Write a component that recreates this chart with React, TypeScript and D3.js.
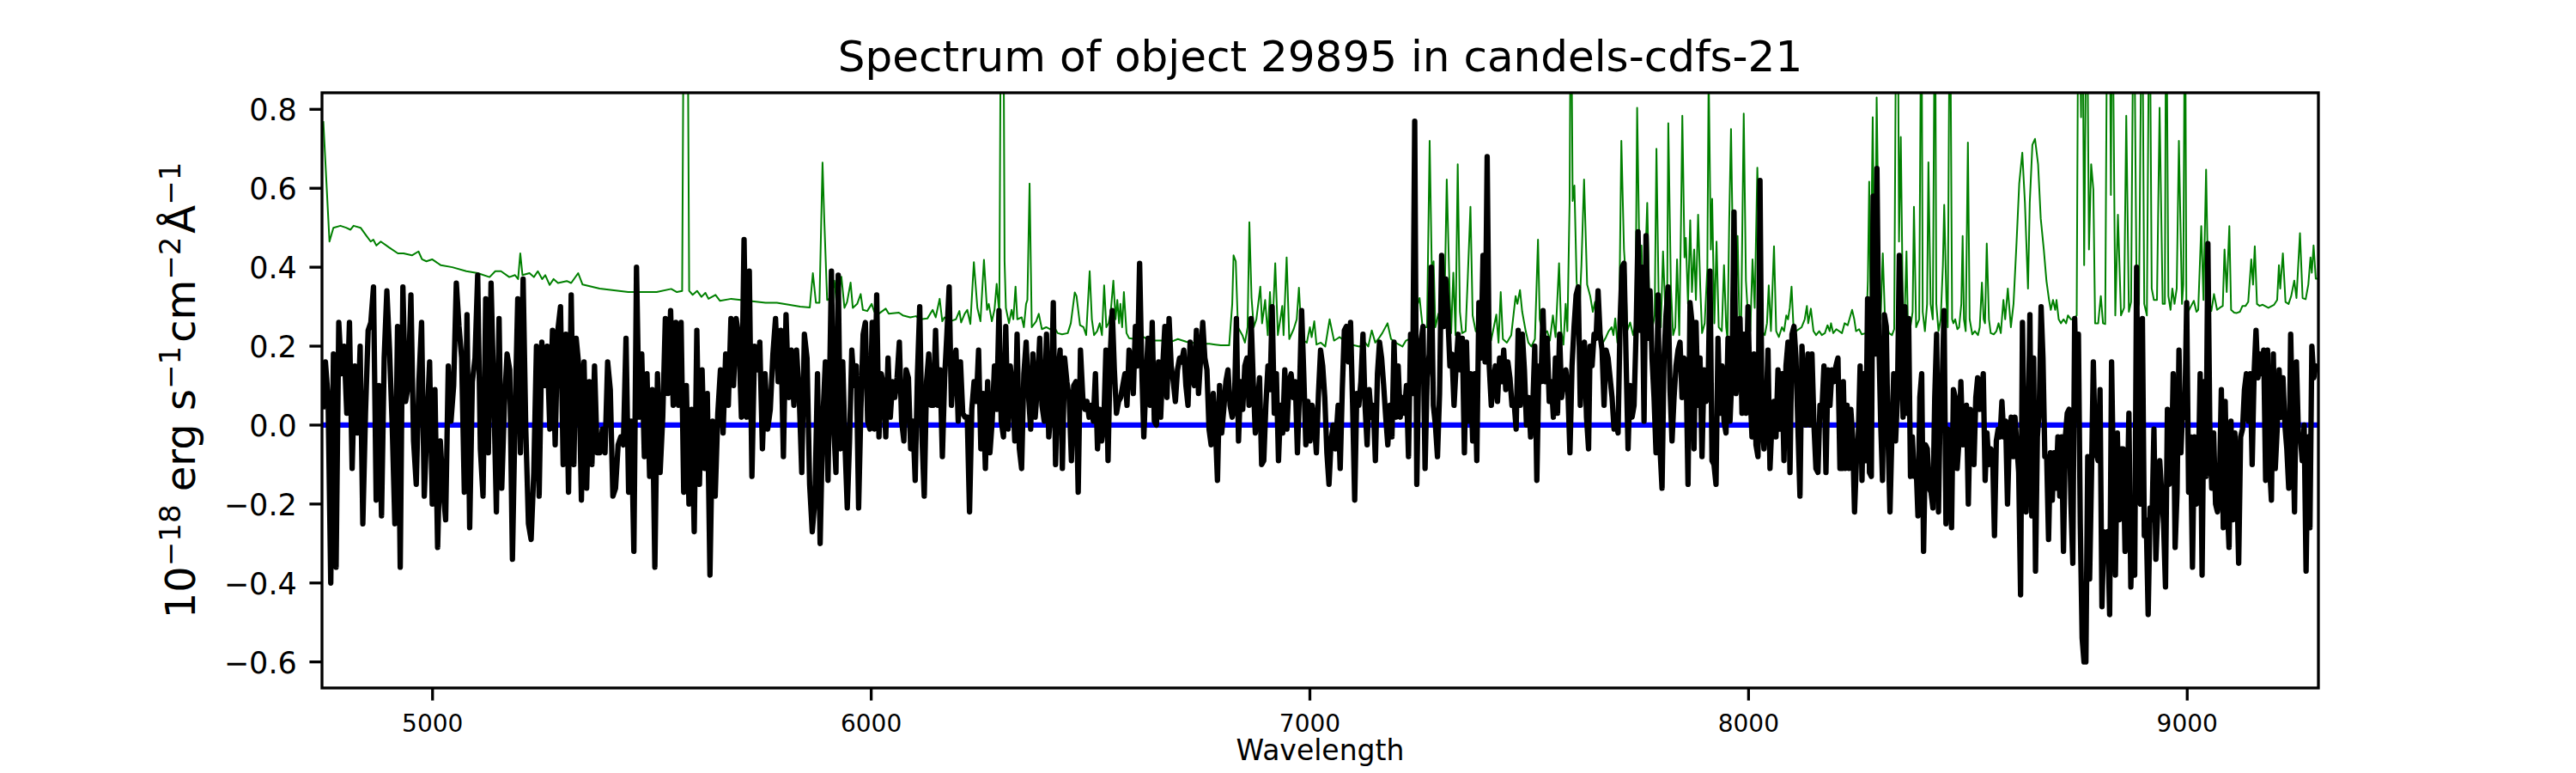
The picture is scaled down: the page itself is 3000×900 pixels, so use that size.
import React, { useEffect } from 'react';
import * as d3 from 'd3';

const TITLE = 'Spectrum of object 29895 in candels-cdfs-21';
const X_LABEL = 'Wavelength';
const X_DOMAIN: [number, number] = [4748, 9299];
const Y_DOMAIN: [number, number] = [-0.666, 0.842];
const X_TICKS = [5000, 6000, 7000, 8000, 9000];
const Y_TICKS = [-0.6, -0.4, -0.2, 0.0, 0.2, 0.4, 0.6, 0.8];

// Observed flux, in eight wavelength segments (start wavelength, sampling step, values)
const segStarts = [4749.7, 5327.4, 5909.3, 6482.3, 7064.4, 7638.7, 8216.05, 8796.8];
const segSteps = [6.09, 5.98, 5.161, 4.797, 4.718, 4.557, 4.253, 4.39];

const flux1 = [
  0.04, 0.16, 0.07, -0.40, 0.18, -0.36, 0.26, 0.13, 0.20, 0.03,
  0.26, -0.11, 0.15, -0.02, 0.20, -0.25, 0.03, 0.24, 0.26, 0.35,
  -0.19, 0.10, -0.23, 0.17, 0.34, 0.19, 0.00, -0.25, 0.25, -0.36,
  0.35, 0.06, 0.10, 0.33, -0.04, -0.15, 0.11, 0.26, -0.18, 0.00,
  0.16, -0.20, 0.09, -0.31, -0.04, -0.16, -0.24, 0.15, 0.01, 0.10,
  0.36, 0.25, 0.17, -0.17, 0.28, -0.26, 0.11, 0.17, 0.38, -0.06,
  -0.18, 0.32, -0.07, 0.36, 0.09, -0.22, 0.27, -0.16, 0.05, 0.18,
  0.14, -0.34, 0.03, 0.32, -0.07, 0.37, -0.01, -0.25, -0.29, -0.12,
  0.20, -0.18, 0.21, 0.10, 0.20, -0.01, 0.24, -0.05, 0.24, 0.30,
  -0.10, 0.23, -0.17, 0.33, -0.10,
];
const flux2 = [
  0.22, 0.15, -0.19, 0.16, -0.16, 0.11, -0.10, 0.15, -0.07, -0.07,
  -0.01, -0.07, 0.16, 0.09, -0.18, -0.16, -0.05, -0.03, -0.05, 0.22,
  -0.17, 0.01, -0.32, 0.40, 0.02, 0.18, -0.08, 0.13, -0.13, 0.09,
  -0.36, 0.13, -0.12, 0.02, 0.27, 0.08, 0.29, 0.05, 0.26, 0.05,
  0.26, -0.17, 0.10, -0.20, 0.04, -0.27, 0.24, -0.15, 0.14, -0.11,
  0.08, -0.38, 0.01, -0.18, 0.03, 0.14, -0.02, 0.18, 0.05, 0.27,
  0.10, 0.27, 0.22, 0.02, 0.47, 0.02, 0.39, -0.13, 0.20, 0.14,
  0.21, -0.06, 0.13, -0.01, 0.04, 0.18, 0.27, 0.11, 0.24, -0.08,
  0.28, 0.07, 0.19, 0.05, 0.19, 0.08, -0.12, 0.23, 0.17, -0.15,
  -0.27, -0.19, 0.13, -0.30, 0.01, 0.16, -0.14,
];
const flux3 = [
  0.39, 0.00, -0.12, 0.38, -0.06, 0.16, -0.05, -0.21, -0.04, 0.19,
  0.10, 0.15, -0.21, 0.04, 0.23, 0.26, 0.01, -0.01, 0.26, -0.01,
  0.33, -0.03, 0.13, 0.10, -0.03, 0.17, 0.02, 0.11, 0.07, 0.12,
  0.21, 0.01, -0.04, 0.14, 0.12, -0.06, 0.01, -0.14, 0.13, 0.30,
  -0.03, -0.18, 0.11, 0.18, 0.05, 0.05, 0.24, 0.05, 0.14, -0.08,
  0.12, 0.23, 0.35, 0.05, 0.15, 0.19, 0.01, 0.16, 0.03, 0.02,
  0.02, -0.22, 0.04, 0.11, 0.06, 0.19, -0.06, 0.08, -0.11, 0.11,
  -0.07, 0.01, 0.15, 0.04, 0.29, 0.01, -0.03, 0.25, -0.01, 0.15,
  0.09, -0.04, 0.23, -0.06, -0.11, 0.13, 0.21, 0.08, -0.01, 0.18,
  0.02, 0.10, 0.22, 0.05, 0.01, 0.23, -0.03, 0.04, 0.31, -0.10,
  0.13, 0.19, -0.11, 0.17, 0.11, 0.07, -0.09, 0.10, 0.11, -0.17,
  0.19,
];
const flux4 = [
  0.07, 0.04, 0.06, 0.02, 0.05, 0.01, 0.13, -0.06, 0.04, -0.04,
  0.01, 0.19, -0.09, 0.17, 0.29, 0.14, 0.03, 0.06, 0.07, 0.10,
  0.13, 0.05, 0.19, 0.15, 0.08, 0.25, 0.15, 0.41, 0.15, -0.03,
  0.11, 0.22, 0.05, 0.26, 0.01, 0.00, 0.16, 0.02, 0.15, 0.25,
  0.07, 0.27, 0.15, 0.11, 0.06, 0.14, 0.17, 0.16, 0.19, 0.10,
  0.05, 0.21, 0.13, 0.10, 0.24, 0.08, 0.17, 0.26, 0.17, 0.14,
  -0.01, -0.05, 0.08, 0.00, -0.14, 0.10, -0.02, 0.04, 0.11, 0.14,
  0.05, 0.02, 0.04, 0.27, -0.04, 0.11, 0.04, 0.15, 0.17, 0.05,
  0.27, 0.11, -0.02, 0.05, 0.12, -0.10, -0.09, 0.05, 0.15, 0.09,
  0.30, 0.03, 0.13, -0.09, 0.05, -0.02, 0.14, -0.01, 0.11, 0.13,
  0.07, 0.11, -0.07, 0.09, 0.29, 0.13, -0.05, 0.06, -0.04, 0.05,
  0.01, -0.07, 0.08, 0.19, 0.15, 0.07, -0.07, -0.15, -0.04, 0.00,
  -0.06,
];
const flux5 = [
  0.05, -0.11, 0.09, 0.24, 0.25, 0.16, 0.26, 0.05, -0.19, 0.08,
  0.05, 0.11, 0.23, 0.05, -0.05, 0.09, 0.02, 0.05, -0.09, 0.13,
  0.21, 0.17, 0.10, 0.02, -0.05, 0.05, -0.03, 0.21, 0.02, 0.15,
  0.02, 0.07, 0.03, 0.10, -0.08, 0.23, 0.08, 0.77, -0.15, 0.17,
  0.21, 0.25, -0.11, 0.12, 0.18, 0.40, 0.05, 0.00, -0.08, 0.08,
  0.43, 0.25, 0.37, 0.28, 0.15, 0.18, 0.05, 0.15, 0.23, 0.14,
  0.22, -0.07, 0.21, 0.01, 0.13, -0.04, 0.13, -0.09, 0.31, 0.17,
  0.43, 0.16, 0.68, 0.15, 0.05, 0.11, 0.15, 0.06, 0.17, 0.11,
  0.19, 0.09, 0.16, 0.12, 0.05, 0.06, -0.01, 0.24, 0.05, 0.23,
  0.14, 0.00, 0.07, -0.03, 0.04, 0.20, -0.14, 0.15, 0.11, 0.29,
  0.11, 0.22, 0.06, 0.11, 0.02, 0.17, 0.03, 0.23, 0.07, 0.11,
  0.14, 0.09, -0.07, 0.15, 0.25, 0.33, 0.35, 0.05, 0.17, 0.21,
  0.02, -0.06,
];
const flux6 = [
  0.20, 0.15, 0.23, 0.22, 0.34, 0.23, 0.19, 0.05, 0.19, 0.17,
  0.12, 0.07, -0.01, 0.01, -0.02, 0.26, 0.40, 0.41, 0.17, -0.06,
  0.10, 0.02, 0.05, 0.23, 0.49, 0.24, 0.40, 0.01, 0.48, 0.22,
  0.34, 0.17, 0.07, -0.07, 0.33, -0.06, -0.16, 0.17, 0.28, 0.35,
  0.09, -0.04, 0.07, 0.15, 0.19, 0.21, 0.07, 0.17, 0.16, -0.15,
  0.31, 0.26, -0.06, 0.26, 0.05, 0.17, -0.08, 0.14, 0.06, 0.08,
  0.39, -0.09, -0.10, -0.15, 0.22, 0.03, 0.15, 0.01, -0.02, 0.22,
  0.01, 0.13, 0.54, 0.08, 0.15, 0.27, 0.03, 0.23, 0.03, 0.30,
  0.09, -0.03, 0.18, -0.05, -0.08, 0.62, 0.01, -0.06, 0.03, 0.19,
  -0.11, 0.01, 0.06, -0.03, 0.14, -0.01, 0.13, -0.09, 0.15, 0.21,
  -0.12, 0.23, 0.25, 0.17, -0.01, -0.18, 0.20, 0.08, 0.00, 0.18,
  0.00, 0.18, 0.00, -0.11, -0.12, 0.05, 0.04, 0.15, -0.12, 0.14,
  0.05, 0.14, 0.11, 0.15, 0.17, -0.11, -0.11,
];
const flux7 = [
  0.11, -0.11, 0.05, -0.11, 0.04, -0.03, -0.22, -0.09, -0.03, 0.15,
  -0.14, 0.13, -0.09, 0.32, -0.12, -0.13, 0.58, 0.18, 0.65, 0.22,
  0.01, -0.14, 0.28, 0.25, -0.04, -0.22, -0.03, 0.13, -0.04, 0.07,
  0.43, 0.30, 0.02, 0.30, 0.03, 0.27, -0.13, -0.03, -0.13, -0.10,
  -0.23, 0.07, 0.13, -0.32, -0.05, -0.06, -0.16, -0.17, -0.21, 0.07,
  0.23, -0.22, 0.07, 0.11, 0.29, -0.25, -0.01, -0.03, -0.26, 0.09,
  0.07, -0.11, -0.04, 0.11, -0.05, 0.01, 0.05, -0.20, 0.04, -0.02,
  -0.10, 0.07, 0.12, 0.04, 0.07, 0.13, -0.14, -0.02, -0.10, -0.06,
  -0.07, -0.28, -0.04, -0.01, -0.03, 0.06, -0.03, 0.01, -0.20, -0.03,
  0.02, -0.08, 0.02, -0.05, -0.12, -0.43, 0.26, -0.05, -0.22, -0.03,
  0.28, -0.23, 0.17, -0.37, -0.03, 0.04, 0.30, 0.17, -0.08, -0.08,
  -0.29, -0.07, -0.19, -0.07, -0.16, -0.03, -0.18, -0.03, -0.32, -0.03,
  0.03, 0.04, -0.20, -0.35, 0.27, 0.05, 0.23, -0.25, -0.54, -0.60,
  -0.60, -0.08, -0.39, -0.13, 0.16, -0.06,
];
const flux8 = [
  -0.09, 0.09, -0.46, -0.27, -0.30, -0.27, -0.48, 0.16, -0.15, -0.38,
  -0.02, -0.24, -0.06, -0.06, -0.32, -0.23, 0.03, -0.41, -0.22, -0.38,
  0.40, -0.15, -0.20, 0.27, -0.28, -0.24, -0.48, -0.21, -0.24, -0.01,
  -0.34, -0.21, -0.09, -0.17, -0.25, -0.41, 0.04, -0.15, -0.13, 0.13,
  -0.31, -0.17, 0.19, -0.07, 0.05, 0.02, 0.31, -0.17, -0.03, -0.36,
  -0.03, -0.20, -0.14, 0.13, -0.38, 0.11, -0.13, 0.46, 0.00, -0.16,
  -0.02, -0.20, -0.22, -0.15, 0.09, -0.26, 0.06, -0.19, -0.31, 0.01,
  -0.24, -0.02, -0.13, -0.35, -0.03, -0.01, 0.09, 0.13, 0.01, 0.13,
  -0.10, 0.13, 0.24, 0.12, 0.18, 0.13, 0.19, -0.14, 0.19, -0.10,
  -0.19, 0.18, -0.11, -0.01, 0.14, 0.02, 0.12, 0.00, -0.06, -0.16,
  0.23, 0.00, -0.22, 0.16, -0.02, -0.03, -0.09, 0.00, -0.37, -0.03,
  -0.26, 0.20, 0.12, 0.15, 0.14,
];
const fluxSegments = [flux1, flux2, flux3, flux4, flux5, flux6, flux7, flux8];

// Sky / noise spectrum (green): [wavelength, flux]
const sky1: [number, number][] = [
  [4751, 0.77], [4765, 0.465], [4774, 0.50], [4790, 0.505], [4803, 0.50], [4813, 0.495], [4820, 0.505],
  [4836, 0.50], [4849, 0.48], [4859, 0.465], [4865, 0.47], [4872, 0.455], [4882, 0.465], [4901, 0.45],
  [4921, 0.435], [4934, 0.435], [4953, 0.43], [4968, 0.44], [4976, 0.42], [4986, 0.415], [4999, 0.42],
  [5019, 0.405], [5045, 0.40], [5077, 0.39], [5103, 0.385], [5130, 0.375], [5143, 0.39], [5156, 0.39],
  [5175, 0.375], [5188, 0.38], [5195, 0.37], [5200, 0.435], [5205, 0.38], [5221, 0.385], [5231, 0.375],
  [5240, 0.39], [5250, 0.37], [5257, 0.38], [5267, 0.355], [5276, 0.37], [5286, 0.36], [5306, 0.365],
];
const sky2: [number, number][] = [
  [5316, 0.36], [5332, 0.385], [5342, 0.356], [5381, 0.346], [5446, 0.337], [5511, 0.337], [5544, 0.345],
  [5557, 0.337], [5569, 0.34], [5573, 1.2], [5577, 1.0], [5581, 1.2], [5585, 0.34], [5593, 0.33],
  [5603, 0.34], [5613, 0.325], [5622, 0.335], [5629, 0.32], [5645, 0.33], [5655, 0.315], [5681, 0.32],
  [5720, 0.315], [5759, 0.31], [5785, 0.31], [5812, 0.305], [5838, 0.30], [5860, 0.298], [5867, 0.385],
  [5874, 0.31], [5882, 0.31], [5889, 0.665],
];
const sky3: [number, number][] = [
  [5893, 0.52], [5899.5, 0.317], [5909, 0.322], [5916, 0.366], [5922, 0.297], [5932, 0.376], [5939, 0.297],
  [5945, 0.312], [5953, 0.361], [5958, 0.297], [5968, 0.307], [5976, 0.332], [5981, 0.292], [5991, 0.289],
  [6001, 0.307], [6007, 0.287], [6017, 0.282], [6033, 0.295], [6040, 0.282], [6063, 0.285], [6072, 0.278],
  [6089, 0.273], [6102, 0.276], [6112, 0.268], [6128, 0.27], [6140, 0.292], [6147, 0.273], [6156, 0.32],
  [6162, 0.263], [6167, 0.273], [6180, 0.263], [6193, 0.268], [6201, 0.289], [6205, 0.26], [6213, 0.282],
  [6219, 0.292], [6226, 0.256], [6234, 0.413], [6242, 0.297], [6249, 0.263], [6257, 0.419], [6264, 0.292],
  [6268, 0.307], [6275, 0.263], [6281, 0.292], [6286, 0.358], [6292, 0.282], [6296, 1.2], [6301, 1.2],
  [6304, 0.415], [6307, 0.297], [6314, 0.258], [6320, 0.292], [6324, 0.268], [6329, 0.351], [6333, 0.268],
  [6343, 0.273], [6348, 0.248], [6353, 0.307], [6356, 0.317], [6361, 0.612], [6366, 0.248], [6376, 0.263],
  [6382, 0.282], [6389, 0.243], [6399, 0.248], [6408, 0.243], [6415, 0.253], [6425, 0.233], [6435, 0.23],
  [6448, 0.233], [6455, 0.258], [6464, 0.336], [6468, 0.327],
];
const sky4: [number, number][] = [
  [6476, 0.253], [6484, 0.248], [6490, 0.228], [6498, 0.39], [6503, 0.268], [6508, 0.228], [6515, 0.238],
  [6521, 0.258], [6526, 0.228], [6531, 0.354], [6536, 0.248], [6541, 0.258], [6546, 0.287], [6552, 0.366],
  [6557, 0.268], [6561, 0.317], [6565, 0.258], [6568, 0.307], [6572, 0.248], [6576, 0.337], [6582, 0.233],
  [6588, 0.22], [6601, 0.218], [6621, 0.223], [6634, 0.214], [6647, 0.214], [6666, 0.214], [6679, 0.209],
  [6699, 0.218], [6719, 0.211], [6732, 0.209], [6751, 0.206], [6771, 0.206], [6784, 0.204], [6797, 0.202],
  [6816, 0.202], [6823, 0.307], [6826, 0.43], [6831, 0.415], [6836, 0.248], [6846, 0.228], [6852, 0.209],
  [6858, 0.248], [6862, 0.514], [6867, 0.322], [6872, 0.248], [6878, 0.268], [6887, 0.351], [6891, 0.258],
  [6898, 0.317], [6904, 0.228], [6909, 0.337], [6914, 0.228], [6921, 0.41], [6927, 0.228], [6934, 0.278],
  [6937, 0.302], [6940, 0.228], [6947, 0.425], [6953, 0.218], [6963, 0.243], [6970, 0.268], [6975, 0.348],
  [6980, 0.248], [6986, 0.214], [6993, 0.209], [7000, 0.248], [7004, 0.223], [7010, 0.263], [7015, 0.204],
  [7025, 0.209], [7035, 0.199], [7045, 0.268],
];
const sky5: [number, number][] = [
  [7055, 0.214], [7061, 0.218], [7068, 0.223], [7077, 0.214], [7094, 0.204], [7113, 0.199], [7126, 0.209],
  [7133, 0.199], [7141, 0.24], [7149, 0.209], [7156, 0.218], [7165, 0.233], [7177, 0.258], [7185, 0.218],
  [7195, 0.209], [7211, 0.199], [7219, 0.214], [7227, 0.218], [7234, 0.228], [7244, 0.30], [7250, 0.322],
  [7257, 0.248], [7267, 0.248], [7273, 0.72], [7278, 0.386], [7282, 0.415], [7286, 0.248], [7293, 0.282],
  [7299, 0.248], [7306, 0.248], [7312, 0.622], [7319, 0.317], [7322, 0.233], [7327, 0.386], [7332, 0.228],
  [7337, 0.661], [7342, 0.287], [7347, 0.233], [7355, 0.238], [7360, 0.376], [7366, 0.553], [7371, 0.278],
  [7378, 0.238], [7387, 0.228], [7400, 0.209], [7413, 0.214], [7425, 0.28], [7430, 0.209], [7435, 0.337],
  [7440, 0.218], [7449, 0.209], [7459, 0.228], [7469, 0.327], [7473, 0.307], [7479, 0.342], [7484, 0.287],
  [7492, 0.238], [7498, 0.209], [7505, 0.199], [7513, 0.218], [7520, 0.47], [7524, 0.268], [7531, 0.228],
  [7541, 0.238], [7547, 0.214], [7554, 0.278], [7560, 0.223], [7568, 0.41], [7573, 0.238], [7578, 0.204],
  [7583, 0.307], [7587, 0.238], [7592, 0.563], [7595, 1.2], [7599, 0.568], [7603, 0.607], [7608, 0.366],
  [7614, 0.278], [7619, 0.405], [7625, 0.622],
];
const sky6: [number, number][] = [
  [7632, 0.356], [7639, 0.327], [7645, 0.287], [7650, 0.312], [7655, 0.218], [7661, 0.228], [7668, 0.209],
  [7675, 0.223], [7681, 0.238], [7688, 0.248], [7692, 0.228], [7696, 0.27], [7701, 0.209], [7705, 0.258],
  [7710, 0.72], [7716, 0.445], [7720, 0.376], [7723, 0.238], [7730, 0.26], [7737, 0.228], [7742, 0.258],
  [7746, 0.804], [7751, 0.435], [7756, 0.455], [7760, 0.268], [7765, 0.425], [7769, 0.563], [7774, 0.307],
  [7781, 0.248], [7786, 0.278], [7790, 0.70], [7795, 0.327], [7800, 0.248], [7805, 0.44], [7810, 0.297],
  [7814, 0.238], [7817, 0.765], [7823, 0.346], [7828, 0.228], [7833, 0.248], [7837, 0.42], [7842, 0.228],
  [7846, 0.514], [7849, 0.784], [7854, 0.425], [7857, 0.474], [7862, 0.307], [7867, 0.519], [7871, 0.337],
  [7876, 0.445], [7880, 0.317], [7885, 0.533], [7890, 0.346], [7894, 0.233], [7900, 0.258], [7906, 0.396],
  [7909, 0.9], [7914, 0.445], [7917, 0.573], [7922, 0.258], [7927, 0.465], [7932, 0.248], [7939, 0.238],
  [7944, 0.405], [7949, 0.248], [7952, 0.218], [7956, 0.524], [7960, 0.75], [7965, 0.386], [7970, 0.248],
  [7975, 0.479], [7979, 0.268], [7983, 0.248], [7989, 0.789], [7994, 0.366], [7999, 0.268], [8004, 0.238],
  [8009, 0.42], [8014, 0.297], [8020, 0.652], [8025, 0.445], [8030, 0.238], [8037, 0.228], [8042, 0.258],
  [8046, 0.354], [8051, 0.238], [8058, 0.453], [8063, 0.238], [8069, 0.223], [8076, 0.248], [8081, 0.238],
  [8086, 0.278], [8090, 0.268], [8094, 0.297], [8098, 0.351], [8102, 0.258], [8108, 0.238], [8121, 0.248],
  [8128, 0.268], [8133, 0.302], [8136, 0.258], [8142, 0.295], [8148, 0.238], [8154, 0.228], [8161, 0.238],
  [8167, 0.228], [8174, 0.233], [8180, 0.253], [8185, 0.238], [8188, 0.258], [8193, 0.233], [8200, 0.243],
];
const sky7: [number, number][] = [
  [8213, 0.233], [8219, 0.258], [8226, 0.253], [8236, 0.292], [8241, 0.268], [8245, 0.238], [8252, 0.243],
  [8258, 0.23], [8268, 0.233], [8272, 0.366], [8275, 0.617], [8278, 0.307], [8283, 0.78], [8288, 0.268],
  [8292, 0.83], [8298, 0.346], [8301, 0.268], [8306, 0.435], [8311, 0.268], [8315, 0.258], [8320, 0.233],
  [8327, 0.228], [8332, 0.243], [8337, 1.2], [8340, 1.2], [8343, 0.465], [8347, 0.73], [8352, 0.268],
  [8355, 0.248], [8360, 0.44], [8363, 0.268], [8369, 0.248], [8374, 0.287], [8377, 0.553], [8382, 0.248],
  [8389, 0.268], [8394, 1.2], [8397, 0.287], [8402, 0.238], [8407, 0.307], [8410, 0.666], [8415, 0.307],
  [8420, 0.268], [8425, 1.2], [8428, 0.307], [8433, 0.238], [8438, 0.268], [8443, 0.405], [8446, 0.558],
  [8451, 0.317], [8454, 0.248], [8459, 1.2], [8464, 0.268], [8467, 0.258], [8471, 0.268], [8476, 0.243],
  [8480, 0.248], [8485, 0.307], [8488, 0.479], [8491, 0.268], [8495, 0.238], [8500, 0.716], [8504, 0.268],
  [8510, 0.23], [8516, 0.238], [8523, 0.228], [8527, 0.248], [8532, 0.361], [8536, 0.268], [8539, 0.258],
  [8543, 0.46], [8548, 0.268], [8552, 0.233], [8559, 0.23], [8565, 0.238], [8570, 0.258], [8575, 0.233],
  [8581, 0.317], [8585, 0.268], [8591, 0.346], [8598, 0.248], [8604, 0.307], [8611, 0.465], [8617, 0.612],
  [8624, 0.69], [8630, 0.563], [8637, 0.346], [8641, 0.563], [8647, 0.71], [8653, 0.725], [8660, 0.661],
  [8666, 0.524], [8673, 0.445], [8679, 0.366], [8685, 0.317], [8689, 0.292], [8694, 0.317], [8699, 0.292],
  [8702, 0.317], [8707, 0.268], [8712, 0.258], [8718, 0.268], [8724, 0.258], [8728, 0.278], [8735, 0.268],
  [8741, 0.268], [8748, 0.278], [8752, 1.2], [8758, 0.78], [8761, 1.2], [8765, 0.405], [8771, 1.2],
  [8776, 0.445],
];
const sky8: [number, number][] = [
  [8781, 0.661], [8786, 0.597], [8790, 0.258], [8797, 0.258], [8803, 0.327], [8808, 0.258], [8813, 0.256],
  [8818, 1.2], [8823, 1.2], [8826, 0.583], [8829, 1.2], [8836, 0.278], [8842, 0.533], [8849, 0.278],
  [8856, 0.297], [8861, 0.784], [8867, 0.287], [8872, 0.312], [8878, 1.2], [8885, 0.287], [8890, 0.307],
  [8897, 1.2], [8902, 0.307], [8908, 0.278], [8914, 1.2], [8919, 0.346], [8924, 0.317], [8931, 0.317],
  [8937, 0.804], [8944, 0.307], [8949, 0.307], [8952, 1.2], [8957, 0.327], [8962, 0.292], [8966, 0.346],
  [8971, 0.307], [8976, 0.346], [8981, 0.72], [8988, 0.307], [8991, 0.356], [8995, 1.2], [8998, 0.312],
  [9002, 0.287], [9009, 0.302], [9015, 0.315], [9021, 0.287], [9025, 0.292], [9032, 0.504], [9037, 0.317],
  [9043, 0.647], [9048, 0.327], [9055, 0.289], [9061, 0.332], [9068, 0.292], [9074, 0.297], [9081, 0.302],
  [9085, 0.445], [9090, 0.337], [9096, 0.504], [9100, 0.292], [9107, 0.285], [9113, 0.284], [9120, 0.287],
  [9126, 0.302], [9133, 0.302], [9139, 0.312], [9146, 0.42], [9150, 0.356], [9154, 0.453], [9159, 0.307],
  [9165, 0.302], [9172, 0.305], [9185, 0.297], [9198, 0.305], [9205, 0.317], [9209, 0.405], [9212, 0.346],
  [9218, 0.435], [9224, 0.312], [9231, 0.307], [9237, 0.327], [9244, 0.366], [9249, 0.322], [9257, 0.486],
  [9263, 0.322], [9270, 0.319], [9276, 0.356], [9281, 0.425], [9284, 0.386], [9288, 0.455], [9293, 0.371],
  [9299, 0.371],
];
const skySegments = [sky1, sky2, sky3, sky4, sky5, sky6, sky7, sky8];

const FONT = 'DejaVu Sans, sans-serif';
const MINUS = '\u2212';

export default function App() {
  useEffect(() => {
    document.body.style.margin = '0';
  }, []);

  const W = 3000, H = 900;
  const L = 375, R = 2700, T = 108, B = 801;
  const x = d3.scaleLinear().domain(X_DOMAIN).range([L, R]);
  const y = d3.scaleLinear().domain(Y_DOMAIN).range([B, T]);

  const fluxPts: [number, number][] = [];
  fluxSegments.forEach((vals, s) => {
    vals.forEach((v, i) => fluxPts.push([segStarts[s] + i * segSteps[s], v]));
  });
  const skyPts: [number, number][] = ([] as [number, number][]).concat(...skySegments);

  const line = d3.line<[number, number]>().x(d => x(d[0])).y(d => y(d[1]));
  const zeroLine: [number, number][] = [[X_DOMAIN[0], 0], [X_DOMAIN[1], 0]];

  const tickLen = 14.6;
  const tickW = 3.3;
  const fmtY = (v: number) => {
    const s = Math.abs(v).toFixed(1);
    return v < -1e-9 ? MINUS + s : s;
  };

  const yl = 48;
  const sup = 34;
  const raise = 17;

  return (
    <svg width={W} height={H} viewBox={`0 0 ${W} ${H}`} style={{ position: 'absolute', left: 0, top: 0, background: '#fff' }}>
      <rect x={0} y={0} width={W} height={H} fill="#fff" />
      <defs>
        <clipPath id="plotClip">
          <rect x={L} y={T} width={R - L} height={B - T} />
        </clipPath>
      </defs>
      <g clipPath="url(#plotClip)">
        <path d={line(skyPts) || ''} fill="none" stroke="#008000" strokeWidth={2} strokeLinejoin="round" />
        <path d={line(zeroLine) || ''} fill="none" stroke="#0000ff" strokeWidth={6.25} />
        <path d={line(fluxPts) || ''} fill="none" stroke="#000" strokeWidth={6.25} strokeLinejoin="round" />
      </g>
      <rect x={L} y={T} width={R - L} height={B - T} fill="none" stroke="#000" strokeWidth={tickW} />
      {Y_TICKS.map(v => (
        <g key={'y' + v}>
          <line x1={L - tickLen} x2={L} y1={y(v)} y2={y(v)} stroke="#000" strokeWidth={tickW} />
          <text x={L - tickLen - 14.6} y={y(v) + 13} fontFamily={FONT} fontSize={35} textAnchor="end" fill="#000">
            {fmtY(v)}
          </text>
        </g>
      ))}
      {X_TICKS.map(v => (
        <g key={'x' + v}>
          <line x1={x(v)} x2={x(v)} y1={B} y2={B + tickLen} stroke="#000" strokeWidth={tickW} />
          <text x={x(v)} y={852} fontFamily={FONT} fontSize={28} textAnchor="middle" fill="#000">
            {String(v)}
          </text>
        </g>
      ))}
      <text x={(L + R) / 2} y={83} fontFamily={FONT} fontSize={50} textAnchor="middle" fill="#000">
        {TITLE}
      </text>
      <text x={(L + R) / 2} y={885} fontFamily={FONT} fontSize={33} textAnchor="middle" fill="#000">
        {X_LABEL}
      </text>
      <text
        transform={`translate(227, ${(T + B) / 2}) rotate(-90)`}
        x={0}
        y={0}
        fontFamily={FONT}
        fontSize={yl}
        textAnchor="middle"
        fill="#000"
      >
        <tspan>10</tspan>
        <tspan fontSize={sup} dy={-raise}>{MINUS + '18'}</tspan>
        <tspan dy={raise}>{' erg s'}</tspan>
        <tspan fontSize={sup} dy={-raise}>{MINUS + '1'}</tspan>
        <tspan dy={raise} dx={4}>cm</tspan>
        <tspan fontSize={sup} dy={-raise}>{MINUS + '2'}</tspan>
        <tspan dy={raise} dx={4}>Å</tspan>
        <tspan fontSize={sup} dy={-raise}>{MINUS + '1'}</tspan>
      </text>
    </svg>
  );
}
